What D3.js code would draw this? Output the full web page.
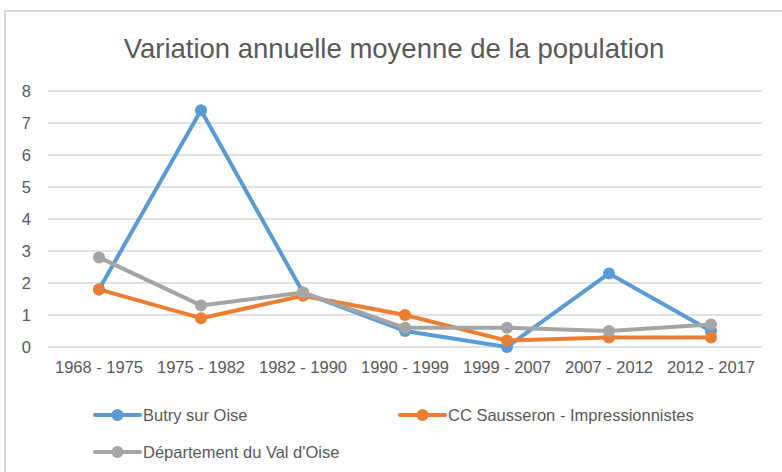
<!DOCTYPE html>
<html>
<head>
<meta charset="utf-8">
<script src="https://cdn.jsdelivr.net/npm/d3@7"></script>
<style>
  body { margin: 0; background: #fff; }
  svg { display: block; font-family: 'Liberation Sans', Arial, sans-serif; }
</style>
</head>
<body>
<div id="chart"></div>
<script>
// periods on the x axis
const periods = ['1968 - 1975', '1975 - 1982', '1982 - 1990', '1990 - 1999', '1999 - 2007', '2007 - 2012', '2012 - 2017'];

const butry = [1.8, 7.4, 1.7, 0.5, 0.0, 2.3, 0.5];
const sausseron = [1.8, 0.9, 1.6, 1.0, 0.2, 0.3, 0.3];
const valDOise = [2.8, 1.3, 1.7, 0.6, 0.6, 0.5, 0.7];

const seriesNames = ['Butry sur Oise', 'CC Sausseron - Impressionnistes', "Département du Val d'Oise"];
const yTicks = [0, 1, 2, 3, 4, 5, 6, 7, 8];

const colors = ['#5B9BD5', '#ED7D31', '#A5A5A5'];
const series = [butry, sausseron, valDOise].map(function(vals, i) {
  return { name: seriesNames[i], values: vals, color: colors[i] };
});

const W = 782, H = 472;
const textColor = '#595959';
const labelSize = '16.5px';

const svg = d3.select('#chart').append('svg')
  .attr('width', W)
  .attr('height', H);

// chart area border (cropped on the right and bottom)
svg.append('rect')
  .attr('x', 5)
  .attr('y', 11)
  .attr('width', W + 20)
  .attr('height', H + 20)
  .attr('fill', '#fff')
  .attr('stroke', '#d9d9d9')
  .attr('stroke-width', 2);

// title
svg.append('text')
  .attr('x', 394)
  .attr('y', 58)
  .attr('text-anchor', 'middle')
  .attr('fill', textColor)
  .style('font-size', '27.5px')
  .text('Variation annuelle moyenne de la population');

var x = d3.scaleBand().domain(periods).range([48, 762]);
var y = d3.scaleLinear().domain([0, 8]).range([347, 91]);

// horizontal gridlines
svg.append('g')
  .selectAll('line')
  .data(yTicks)
  .join('line')
  .attr('x1', 48)
  .attr('x2', 762)
  .attr('y1', function(d) { return y(d); })
  .attr('y2', function(d) { return y(d); })
  .attr('stroke', '#d9d9d9')
  .attr('stroke-width', 1.3);

// y axis labels
var yAxis = d3.axisLeft(y).tickValues(yTicks).tickSize(0).tickPadding(0);
svg.append('g')
  .attr('transform', 'translate(31,0)')
  .call(yAxis)
  .call(function(g) { g.select('.domain').remove(); })
  .selectAll('text')
  .attr('fill', textColor)
  .style('font-size', labelSize)
  .style('font-family', "'Liberation Sans', Arial, sans-serif");

// x axis labels
var xAxis = d3.axisBottom(x).tickSize(0).tickPadding(0);
svg.append('g')
  .attr('transform', 'translate(0,361)')
  .call(xAxis)
  .call(function(g) { g.select('.domain').remove(); })
  .selectAll('text')
  .attr('fill', textColor)
  .style('font-size', labelSize)
  .style('font-family', "'Liberation Sans', Arial, sans-serif");

var cx = function(i) { return x(periods[i]) + x.bandwidth() / 2; };

var line = d3.line()
  .x(function(d, i) { return cx(i); })
  .y(function(d) { return y(d); });

series.forEach(function(s) {
  var g = svg.append('g');
  g.append('path')
    .attr('d', line(s.values))
    .attr('fill', 'none')
    .attr('stroke', s.color)
    .attr('stroke-width', 4)
    .attr('stroke-linejoin', 'round');
  g.selectAll('circle')
    .data(s.values)
    .join('circle')
    .attr('cx', function(d, i) { return cx(i); })
    .attr('cy', function(d) { return y(d); })
    .attr('r', 6)
    .attr('fill', s.color);
});

// legend
var legendPos = [[95, 415], [400, 415], [95, 452]];
series.forEach(function(s, i) {
  var lg = svg.append('g')
    .attr('transform', 'translate(' + legendPos[i][0] + ',' + legendPos[i][1] + ')');
  lg.append('line')
    .attr('x1', 0).attr('x2', 45)
    .attr('stroke', s.color)
    .attr('stroke-width', 4)
    .attr('stroke-linecap', 'round');
  lg.append('circle')
    .attr('cx', 22.5)
    .attr('r', 6)
    .attr('fill', s.color);
  lg.append('text')
    .attr('x', 48)
    .attr('dy', '0.35em')
    .attr('fill', textColor)
    .style('font-size', labelSize)
    .text(s.name);
});
</script>
</body>
</html>
